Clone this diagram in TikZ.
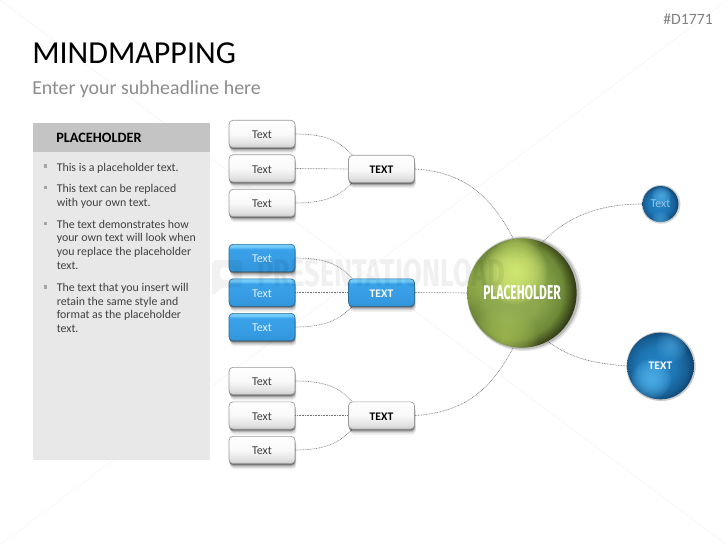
\documentclass[tikz,border=0pt]{standalone}
\usepackage{fontspec}
\setmainfont{Carlito}
\newfontfamily\condfont{Fira Sans}
\usetikzlibrary{backgrounds,calc}
\definecolor{panelhead}{HTML}{C4C4C4}
\definecolor{panelbody}{HTML}{E8E8E8}
\definecolor{bulletc}{HTML}{A6A6A6}
\definecolor{inktext}{HTML}{404040}
\definecolor{subc}{HTML}{8C8C8C}
\definecolor{bluebox}{HTML}{38A0E8}
\definecolor{blueedge}{HTML}{2A6F9E}
\definecolor{gA}{HTML}{9AB456}
\definecolor{gB}{HTML}{8AA54C}
\definecolor{gC}{HTML}{6F8A38}
\definecolor{gD}{HTML}{343F16}
\definecolor{gE}{HTML}{0E100A}
\definecolor{gSpot}{HTML}{DCF27A}
\definecolor{gRim}{HTML}{B4D060}
\definecolor{bA}{HTML}{2484C6}
\definecolor{bB}{HTML}{1E76B4}
\definecolor{bC}{HTML}{175E94}
\definecolor{bD}{HTML}{0D3558}
\definecolor{bSpot}{HTML}{58B8F0}
\definecolor{grA}{HTML}{CBCBCB}
\definecolor{grB}{HTML}{E2E2E2}
\definecolor{grC}{HTML}{F9F9F9}
\definecolor{blA}{HTML}{3396DC}
\definecolor{blB}{HTML}{3AA2EA}
\definecolor{blC}{HTML}{74CCF8}
\pgfdeclareradialshading{greenball}{\pgfpoint{-6bp}{2bp}}{
  color(0bp)=(gA);color(14bp)=(gB);color(22bp)=(gC);color(27bp)=(gD);color(31bp)=(gE);color(50bp)=(gE)}
\pgfdeclareradialshading{blueball}{\pgfpoint{-4bp}{0bp}}{
  color(0bp)=(bA);color(14bp)=(bB);color(22bp)=(bC);color(29bp)=(bD);color(50bp)=(bD)}
\pgfdeclareverticalshading{graygrad}{100bp}{
  color(0bp)=(grA);color(25bp)=(grA);color(33bp)=(grB);color(50bp)=(grC);color(75bp)=(white);color(100bp)=(white)}
\pgfdeclareverticalshading{bluegrad}{100bp}{
  color(0bp)=(blA);color(25bp)=(blA);color(66bp)=(blB);color(71bp)=(blC);color(100bp)=(blC)}
% a soft light on a sphere: stacked, faint discs
\newcommand{\ballspot}[5]{%
  \foreach \k in {1,...,14}{%
    \pgfmathsetmacro{\spotr}{#3*\k/14}%
    \fill[#4,opacity=#5] ($(path picture bounding box.center)+(#1,#2)$) circle (\spotr);}}
\tikzset{
  x=0.75pt,y=-0.75pt,
  softshadow/.style={
    preaction={fill=black,opacity=.06,transform canvas={xshift=1pt,yshift=-4.2pt}},
    preaction={fill=black,opacity=.09,transform canvas={xshift=.8pt,yshift=-3.2pt}},
    preaction={fill=black,opacity=.14,transform canvas={xshift=.5pt,yshift=-2.2pt}},
    preaction={fill=black,opacity=.2,transform canvas={xshift=.3pt,yshift=-1.4pt}},
    preaction={fill=black!62,transform canvas={yshift=-.8pt}}},
  boxbase/.style={line width=.5pt,rounded corners=3pt,minimum width=49.5pt,minimum height=20.5pt,inner sep=0pt,softshadow,text height=7pt,text depth=0pt,font=\fontsize{9}{10}\selectfont},
  graybox/.style={boxbase,draw=black!40,shading=graygrad,text=inktext},
  bluerect/.style={boxbase,draw=blueedge,shading=bluegrad,text=white!85!bluebox},
  midgray/.style={graybox,text=black,font=\fontsize{8.7}{10}\selectfont\bfseries},
  midblue/.style={bluerect,text=white,font=\fontsize{8.7}{10}\selectfont\bfseries},
  link/.style={draw=black!55,line width=.45pt,dash pattern=on .6pt off .6pt},
  bultext/.style={anchor=north west,align=left,inner sep=0pt,text=inktext,font=\fontsize{8.9}{10.3}\selectfont},
  bul/.style={fill=bulletc,minimum size=2.6pt,inner sep=0pt},
  wm/.style={draw=black,opacity=.035,line width=.6pt},
  sphere/.style={circle,inner sep=0pt,shading=#1},
}
\begin{document}
\begin{tikzpicture}
\useasboundingbox (0,0) rectangle (727,545);
% header
\node[anchor=west,inner sep=0pt,text=black,font=\fontsize{24}{28}\selectfont] (title) at (32,53) {MINDMAPPING};
\node[anchor=west,inner sep=0pt,text=subc,font=\fontsize{14.9}{18}\selectfont] (sub) at (32,89) {Enter your subheadline here};
\node[anchor=east,inner sep=0pt,text=black!50,font=\fontsize{11.8}{14}\selectfont] (code) at (713,19) {\#D1771};
% left panel
\fill[panelbody] (33,152) rectangle (210,460);
\fill[panelhead] (33,123) rectangle (210,152);
\node[anchor=west,inner sep=0pt,text=black,font=\fontsize{10.7}{12}\selectfont\bfseries] (phead) at (56,138) {PLACEHOLDER};
\node[bul] (b1) at (45.5,166) {};
\node[bultext] (x1) at (56.5,162.7) {This is a placeholder text.};
\node[bul] (b2) at (45.5,187.5) {};
\node[bultext] (x2) at (56.5,184) {This text can be replaced\\with your own text.};
\node[bul] (b3) at (45.5,223.5) {};
\node[bultext] (x3) at (56.5,219.7) {The text demonstrates how\\your own text will look when\\you replace the placeholder\\text.};
\node[bul] (b4) at (45.5,287) {};
\node[bultext] (x4) at (56.5,283) {The text that you insert will\\retain the same style and\\format as the placeholder\\text.};
% boxes
\node[graybox] (t1) at (262,134) {Text};
\node[graybox] (t2) at (262,168.5) {Text};
\node[graybox] (t3) at (262,203) {Text};
\node[bluerect] (t4) at (262,258) {Text};
\node[bluerect] (t5) at (262,292.5) {Text};
\node[bluerect] (t6) at (262,327) {Text};
\node[graybox] (t7) at (262,381) {Text};
\node[graybox] (t8) at (262,415.5) {Text};
\node[graybox] (t9) at (262,450) {Text};
\node[midgray] (m1) at (381.5,169) {TEXT};
\node[midblue] (m2) at (381.5,292.5) {TEXT};
\node[midgray] (m3) at (381.5,415.5) {TEXT};
% spheres
\fill[black,opacity=.10] (524,293.5) circle (57.5);
\fill[black,opacity=.18] (523.3,293.3) circle (56.2);
\node[sphere=greenball,minimum size=82pt,text=white,font=\condfont\fontsize{15}{17}\selectfont\bfseries,
  path picture={\ballspot{-7}{-21}{32}{gSpot}{.13}\ballspot{-18}{48}{34}{gRim}{.07}\ballspot{-60}{-12}{28}{gRim}{.05}\ballspot{-5}{-58}{24}{gRim}{.06}}]
  (hub) at (522,293) {\scalebox{.6}[1]{PLACEHOLDER}};
\fill[black,opacity=.18] (661,204.3) circle (19.4);
\node[sphere=blueball,minimum size=27pt,text=white!50!bluebox!85!gray,font=\fontsize{9}{10}\selectfont,
  path picture={\ballspot{1}{-8}{10}{bSpot}{.09}\ballspot{0}{17}{10}{bSpot}{.06}}]
  (ball1) at (660.5,204) {Text};
\fill[black,opacity=.2] (661,366.3) circle (34.7);
\node[sphere=blueball,minimum size=50pt,text=white,font=\fontsize{8.7}{10}\selectfont\bfseries,
  path picture={\ballspot{-9}{13}{20}{bSpot}{.11}\ballspot{11}{-20}{16}{bSpot}{.06}}]
  (ball2) at (660.5,366) {TEXT};
% watermark
\node[anchor=west,inner sep=0pt,opacity=.06,text=black,font=\condfont\fontsize{29}{31}\selectfont\bfseries] (wmark) at (257,273.5) {\scalebox{.705}[1]{PRESENTATIONLOAD}};
\fill[black,opacity=.05,rounded corners=3pt,even odd rule] (212,260) -- (242,260) -- (242,287) -- (222,287) -- (212,297) -- cycle (220,267) rectangle (234,280);
\begin{scope}[on background layer]
  \fill[white] (0,0) rectangle (727,545);
  \draw[wm] (0,0) -- (727,545) (0,545) -- (727,0);
  \coordinate (m1a) at ($(m1.north west)+(4,0)$);
  \coordinate (m1b) at ($(m1.south west)+(4,0)$);
  \coordinate (m2a) at ($(m2.north west)+(4,0)$);
  \coordinate (m2b) at ($(m2.south west)+(4,0)$);
  \coordinate (m3a) at ($(m3.north west)+(4,0)$);
  \coordinate (m3b) at ($(m3.south west)+(4,0)$);
  \draw[link] (t1.east) .. controls +(32,0) and +(-12,-13) .. (m1a);
  \draw[link] (t2.east) -- (m1.west);
  \draw[link] (t3.east) .. controls +(32,0) and +(-12,12) .. (m1b);
  \draw[link] (t4.east) .. controls +(32,0) and +(-12,-13) .. (m2a);
  \draw[link] (t5.east) -- (m2.west);
  \draw[link] (t6.east) .. controls +(32,0) and +(-12,12) .. (m2b);
  \draw[link] (t7.east) .. controls +(32,0) and +(-12,-13) .. (m3a);
  \draw[link] (t8.east) -- (m3.west);
  \draw[link] (t9.east) .. controls +(32,0) and +(-12,12) .. (m3b);
  \draw[link] (m1.east) .. controls +(50,3) and +(-22,-42) .. (hub.99);
  \draw[link] (m2.east) -- (hub.west);
  \draw[link] (m3.east) .. controls +(50,-3) and +(-22,42) .. (hub.261);
  \draw[link] (hub.68) .. controls +(25,-26) and +(-42,0) .. (ball1.west);
  \draw[link] (hub.298) .. controls +(24,17) and +(-36,-3) .. (ball2.west);
\end{scope}
\end{tikzpicture}
\end{document}
